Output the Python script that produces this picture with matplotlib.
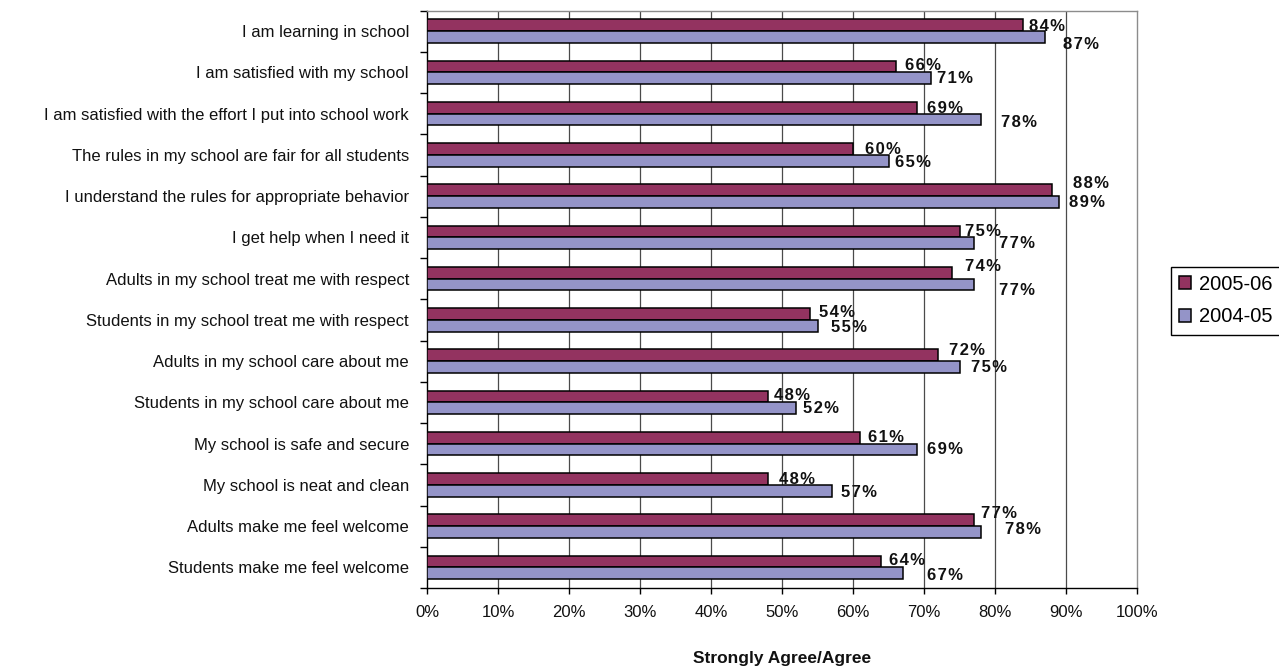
import matplotlib
matplotlib.use("Agg")
import matplotlib.pyplot as plt
import numpy as np
from matplotlib.patches import Patch

# ---- data -------------------------------------------------------------
statements = [
    "I am learning in school",
    "I am satisfied with my school",
    "I am satisfied with the effort I put into school work",
    "The rules in my school are fair for all students",
    "I understand the rules for appropriate behavior",
    "I get help when I need it",
    "Adults in my school treat me with respect",
    "Students in my school treat me with respect",
    "Adults in my school care about me",
    "Students in my school care about me",
    "My school is safe and secure",
    "My school is neat and clean",
    "Adults make me feel welcome",
    "Students make me feel welcome",
]
series_names = ["2005-06", "2004-05"]
values_0506 = [84, 66, 69, 60, 88, 75, 74, 54, 72, 48, 61, 48, 77, 64]
values_0405 = [87, 71, 78, 65, 89, 77, 77, 55, 75, 52, 69, 57, 78, 67]
x_ticks = [0, 10, 20, 30, 40, 50, 60, 70, 80, 90, 100]
x_title = "Strongly Agree/Agree"

# ---- styling ----------------------------------------------------------
colors = ["#933360", "#9494C8"]
font = ["Liberation Sans", "DejaVu Sans"]
plt.rcParams["font.family"] = font

# Label nudges in pixels (right of bar end, down from bar centre)
nudge_0506 = [(5.3, -0.3), (9.4, -2.3), (9.8, -1.2), (12.0, -0.9), (20.9, -7.8),
              (5.5, -1.8), (12.6, -8.1), (8.9, -2.6), (10.8, -6.4), (6.5, -2.7),
              (8.2, -1.6), (11.2, -1.3), (7.0, -8.2), (7.3, -2.2)]
nudge_0405 = [(18.0, 6.2), (5.6, -1.1), (19.9, 1.0), (6.5, 0.3), (9.8, -1.3),
              (25.3, -0.9), (25.3, 4.4), (13.5, 0.4), (11.2, -0.8), (7.1, -1.5),
              (9.8, -1.1), (9.0, 0.3), (24.2, -3.7), (24.0, 1.0)]

W, H, DPI = 1279, 669, 100
fig = plt.figure(figsize=(W / DPI, H / DPI), dpi=DPI)
fig.patch.set_facecolor("white")

left, right, top, bottom = 427, 1137, 10.5, 588
ax = fig.add_axes([left / W, (H - bottom) / H, (right - left) / W, (bottom - top) / H])

n = len(statements)
pos = np.arange(n)
h = 0.285

ax.barh(pos - h / 2, values_0506, height=h, color=colors[0],
        edgecolor="black", linewidth=1.1, zorder=3)
ax.barh(pos + h / 2, values_0405, height=h, color=colors[1],
        edgecolor="black", linewidth=1.1, zorder=3)

ax.set_xlim(x_ticks[0], x_ticks[-1])
ax.set_ylim(n - 0.5, -0.5)

# vertical gridlines between the frame edges
ax.vlines(x_ticks[1:-1], 0, 1, transform=ax.get_xaxis_transform(),
          colors="#4a4a4a", linewidth=0.9, zorder=1)

# spines
for side in ("top", "right"):
    ax.spines[side].set_color("#8c8c8c")
    ax.spines[side].set_linewidth(1.0)
for side in ("left", "bottom"):
    ax.spines[side].set_color("black")
    ax.spines[side].set_linewidth(1.0)

# y axis: labels at category centres, tick marks at category boundaries
ax.set_yticks(pos)
ax.set_yticklabels(statements, fontsize=12, color="#111111")
ax.tick_params(axis="y", which="major", length=0, pad=13)
ax.set_yticks(np.arange(n + 1) - 0.5, minor=True)
ax.tick_params(axis="y", which="minor", length=5, width=1.0, color="black")

# x axis
ax.set_xticks(x_ticks)
ax.set_xticklabels([f"{t}%" for t in x_ticks], fontsize=12, color="#111111")
ax.tick_params(axis="x", which="major", length=4, width=1.0, color="black",
               pad=8)

fig.text((left + right) / 2 / W, 1 - 662.5 / H, x_title, ha="center",
         va="baseline", fontsize=12.5, fontweight="bold", color="#111111")

# value labels
label_size = 12
em_px = label_size * DPI / 72.0


def spaced(v):
    return "\u200a".join(f"{v}%")


for vals, ys, nudges in ((values_0506, pos - h / 2, nudge_0506),
                         (values_0405, pos + h / 2, nudge_0405)):
    for v, y, (dx, dy) in zip(vals, ys, nudges):
        ax.annotate(spaced(v), xy=(v, y), xytext=(dx, -(dy + 0.36 * em_px)),
                    textcoords="offset pixels", ha="left", va="baseline",
                    fontsize=label_size, fontweight="bold", color="#111111",
                    zorder=4, annotation_clip=False)

# legend (runs off the right edge of the canvas)
handles = [Patch(facecolor=c, edgecolor="black", linewidth=1.1, label=s)
           for c, s in zip(colors, series_names)]
fig.legend(handles=handles, loc="upper left",
           bbox_to_anchor=(1171 / W, 1 - 266.7 / H), fontsize=14.5,
           frameon=True, fancybox=False, shadow=False, edgecolor="black",
           framealpha=1, borderpad=0.4, labelspacing=0.68,
           handlelength=0.6, handleheight=0.6, handletextpad=0.4,
           borderaxespad=0)

fig.savefig("out.png", dpi=DPI, facecolor="white")
